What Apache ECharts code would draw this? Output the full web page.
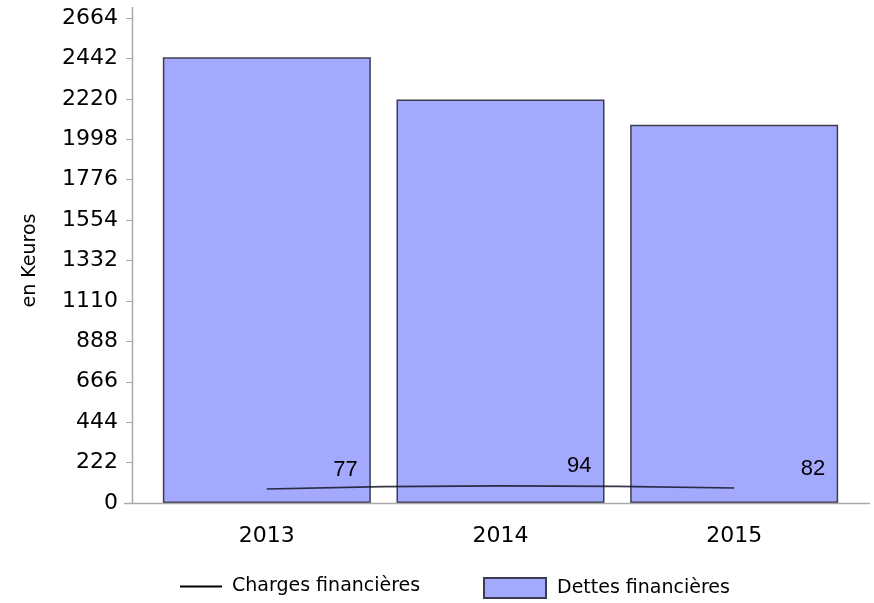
<!DOCTYPE html>
<html>
<head>
<meta charset="utf-8">
<script src="https://cdn.jsdelivr.net/npm/echarts@6/dist/echarts.min.js"></script>
<style>
html,body{margin:0;padding:0;background:#fff;}
#chart{width:874px;height:603px;}
</style>
</head>
<body>
<div id="chart"></div>
<script>
const categories = ['2013', '2014', '2015'];
const dettes = [2448, 2216, 2078];
const charges = [77, 94, 82];
const yTicks = [0, 222, 444, 666, 888, 1110, 1332, 1554, 1776, 1998, 2220, 2442, 2664];

const chart = echarts.init(document.getElementById('chart'));
const axisFont = 'DejaVu Sans';
chart.setOption({
  animation: false,
  backgroundColor: '#ffffff',
  grid: { left: 150, right: 23, top: 18, bottom: 100 },
  xAxis: {
    type: 'category',
    data: categories,
    axisLine: { show: false },
    axisTick: { show: false },
    axisLabel: { color: '#000', fontFamily: axisFont, fontSize: 22, margin: 22 }
  },
  yAxis: {
    type: 'value',
    min: yTicks[0],
    max: yTicks[yTicks.length - 1],
    interval: yTicks[1] - yTicks[0],
    offset: 18,
    name: 'en Keuros',
    nameLocation: 'middle',
    nameGap: 92,
    nameRotate: 90,
    nameTextStyle: { color: '#000', fontFamily: axisFont, fontSize: 19 },
    axisLine: { show: false },
    axisTick: { show: true, length: 6, lineStyle: { color: '#aaaaaa', width: 1 } },
    splitLine: { show: false },
    axisLabel: { color: '#000', fontFamily: axisFont, fontSize: 22, margin: 14, formatter: v => String(v) }
  },
  legend: [
    {
      data: ['Charges financières'],
      left: 180, top: 577, padding: 0,
      itemWidth: 42, itemHeight: 20,
      icon: 'path://M0,9 L42,9 L42,11 L0,11 Z',
      textStyle: { color: '#000', fontFamily: axisFont, fontSize: 19, padding: [0, 0, 0, 5] },
      itemStyle: { color: '#000', borderWidth: 0 }
    },
    {
      data: ['Dettes financières'],
      left: 483, top: 577, padding: 0,
      itemWidth: 62, itemHeight: 20,
      icon: 'rect',
      textStyle: { color: '#000', fontFamily: axisFont, fontSize: 19, padding: [0, 0, 0, 6] }
    }
  ],
  graphic: [
    { type: 'line', shape: { x1: 124, y1: 503.5, x2: 870, y2: 503.5 }, style: { stroke: '#aaaaaa', lineWidth: 1.5 }, z: 10 },
    { type: 'line', shape: { x1: 132.5, y1: 7, x2: 132.5, y2: 503 }, style: { stroke: '#aaaaaa', lineWidth: 1.5 }, z: 10 }
  ],
  series: [
    {
      name: 'Dettes financières',
      type: 'bar',
      data: dettes,
      barWidth: 208,
      itemStyle: { color: '#a3a9fd', borderColor: '#3c3c50', borderWidth: 1.5 },
      z: 2
    },
    {
      name: 'Charges financières',
      type: 'line',
      data: charges,
      smooth: true,
      symbol: 'circle',
      symbolSize: 1,
      showSymbol: true,
      lineStyle: { color: 'rgba(20,20,40,0.85)', width: 1.6 },
      itemStyle: { color: 'rgba(0,0,0,0)' },
      label: {
        show: true,
        position: [67, -30],
        align: 'left',
        verticalAlign: 'top',
        color: '#000',
        fontFamily: 'Liberation Sans',
        fontSize: 22
      },
      labelLayout: { hideOverlap: false },
      z: 5
    }
  ]
});
</script>
</body>
</html>
